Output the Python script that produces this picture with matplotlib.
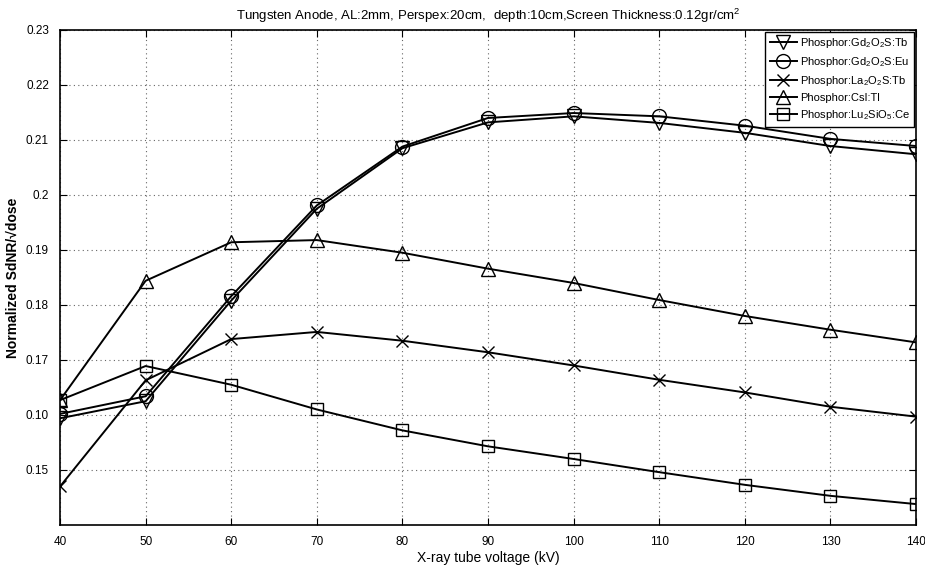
import numpy as np
import matplotlib
matplotlib.use("Agg")
import matplotlib.pyplot as plt
from matplotlib import font_manager

# Tube voltage (kV) and normalized SdNR per dose for each phosphor
kv = [40, 50, 60, 70, 80, 90, 100, 110, 120, 130, 140]
gd_tb = [0.1594, 0.1625, 0.1808, 0.1975, 0.2085, 0.2132, 0.2143, 0.2131, 0.2113, 0.2089, 0.2074]
gd_eu = [0.1602, 0.1634, 0.1816, 0.1981, 0.2088, 0.2140, 0.2149, 0.2143, 0.2126, 0.2102, 0.2089]
la_tb = [0.1470, 0.1663, 0.1738, 0.1751, 0.1735, 0.1714, 0.1690, 0.1664, 0.1641, 0.1615, 0.1597]
csi_tl = [0.1627, 0.1844, 0.1914, 0.1918, 0.1895, 0.1866, 0.1840, 0.1809, 0.1780, 0.1755, 0.1732]
lso_ce = [0.1627, 0.1689, 0.1655, 0.1610, 0.1572, 0.1543, 0.1520, 0.1496, 0.1473, 0.1453, 0.1438]

y_ticks = [0.15, 0.16, 0.17, 0.18, 0.19, 0.20, 0.21, 0.22, 0.23]
y_tick_labels = ["0.15", "0.10", "0.17", "0.18", "0.19", "0.2", "0.21", "0.22", "0.23"]

names = [r"Phosphor:Gd$_2$O$_2$S:Tb", r"Phosphor:Gd$_2$O$_2$S:Eu",
         r"Phosphor:La$_2$O$_2$S:Tb", r"Phosphor:CsI:Tl",
         r"Phosphor:Lu$_2$SiO$_5$:Ce"]

installed = {f.name for f in font_manager.fontManager.ttflist}
narrow = "Liberation Sans Narrow" if "Liberation Sans Narrow" in installed else "Liberation Sans"
plt.rcParams["font.family"] = ["Liberation Sans", "DejaVu Sans"]
plt.rcParams["mathtext.fontset"] = "custom"
plt.rcParams["mathtext.rm"] = "Liberation Sans"
plt.rcParams["mathtext.it"] = "Liberation Sans:italic"

fig = plt.figure(figsize=(9.25, 5.72), dpi=100)
ax = fig.add_axes([0.0649, 0.0822, 0.9254, 0.8654])

series = [gd_tb, gd_eu, la_tb, csi_tl, lso_ce]
markers = ["v", "o", "x", "^", "s"]
sizes = [10, 10, 8, 10, 9]
for vals, m, s, name in zip(series, markers, sizes, names):
    ax.plot(kv, vals, color="black", lw=1.4, marker=m, markersize=s,
            markerfacecolor="none", markeredgecolor="black", markeredgewidth=1.0,
            label=name)

ax.set_xlim(40, 140)
ax.set_ylim(0.14, 0.23)
ax.set_xticks(kv)
ax.set_xticklabels([str(v) for v in kv], family=narrow, fontsize=8.5)
ax.set_yticks(y_ticks)
ax.set_yticklabels(y_tick_labels, family=narrow, fontsize=8.5)
ax.tick_params(direction="in", length=5, top=True, right=True, pad=8)
ax.grid(True, linestyle=(0, (1, 3)), color="#666666", lw=0.8)
for sp in ax.spines.values():
    sp.set_linewidth(1.2)

ax.set_title(r"Tungsten Anode, AL:2mm, Perspex:20cm,  depth:10cm,Screen Thickness:0.12gr/cm$^2$",
             fontsize=9.5, pad=7)
ax.set_xlabel("X-ray tube voltage (kV)", family=narrow, fontsize=10, labelpad=2)
ax.set_ylabel("Normalized SdNR/\u221adose", fontsize=10, fontweight="bold", labelpad=4)

leg = ax.legend(loc="upper right", fontsize=8, frameon=True, fancybox=False,
                edgecolor="black", framealpha=1, handlelength=2.4, handletextpad=0.3,
                labelspacing=0.45, borderpad=0.4, borderaxespad=0.15)
leg.get_frame().set_linewidth(1.0)

fig.savefig("out.png", dpi=100)
